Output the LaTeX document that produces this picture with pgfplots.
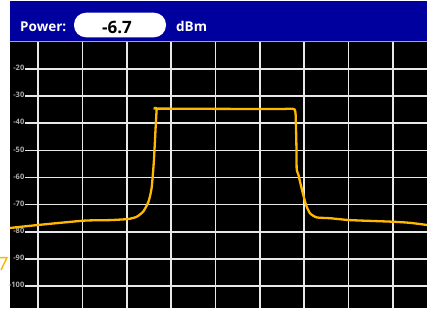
\documentclass[border=0pt]{standalone}
\usepackage{fontspec}
\setmainfont{Open Sans}
\usepackage{pgfplots}
\pgfplotsset{compat=1.18}
\usetikzlibrary{calc}
\definecolor{hblue}{RGB}{0,0,158}
\definecolor{trace}{RGB}{255,184,0}
\definecolor{gridc}{RGB}{232,232,232}
\definecolor{lblc}{RGB}{175,175,175}
\begin{document}
\begin{tikzpicture}
\begin{axis}[
  name=ax, at={(0pt,0pt)}, anchor=south west,
  scale only axis, width=417pt, height=266pt,
  xmin=-6.31, xmax=87.66, ymin=-108.1, ymax=-10.05,
  axis background/.style={fill=black},
  axis line style={draw=none},
  major tick length=0pt,
  xtick={0,10,...,80}, xticklabels={},
  xmajorgrids, grid style={gridc, line width=1.6pt},
  ytick={-100,-90,...,-20},
  yticklabels={-100,-90,-80,-70,-60,-50,-40,-30,-20},
  yticklabel style={anchor=east, xshift=15pt, yshift=1pt, inner sep=0.5pt, text=lblc, font=\bfseries\fontsize{7.5}{8}\selectfont},
]
\pgfplotsinvokeforeach{-100,-90,...,-20}{
  \draw[gridc, line width=1.6pt] (axis cs:-2.93,#1) -- (axis cs:87.66,#1);
}
\addplot[trace, line width=2.3pt, smooth, tension=0.35] coordinates {
(-6.3,-78.6) (0,-77.5) (10.4,-75.9) (16.2,-75.7) (19.6,-75.4) (20.7,-75.2)
(22.2,-74.5) (23.7,-72.6) (24.9,-68.9) (25.6,-63.9) (26.1,-54.2) (26.5,-41.8)
(26.75,-34.7) (26.9,-34.6) (41.0,-34.7) (54.5,-34.75) (57.8,-34.9)
(58.1,-39.9) (58.25,-49.9) (58.3,-57.2) (58.7,-59.1) (59.4,-64.0) (60.4,-70.1)
(61.3,-73.2) (62.8,-74.7) (65.8,-75.0) (70.3,-75.7) (80.0,-76.3) (83.8,-76.7) (87.7,-77.5)
};
\end{axis}
% header band
\fill[hblue] ($(ax.north west)+(0pt,1pt)$) rectangle ($(ax.north east)+(0pt,41pt)$);
\draw[gray!70, line width=0.8pt] ($(ax.north west)+(0pt,0.6pt)$) -- ($(ax.north east)+(0pt,0.6pt)$);
\node[anchor=base west, text=white, inner sep=0pt, font=\bfseries\fontsize{13.5}{14}\selectfont] at ($(ax.north west)+(10pt,10.5pt)$) {Power:};
\fill[white, rounded corners=12pt] ($(ax.north west)+(64pt,4.7pt)$) rectangle ($(ax.north west)+(156pt,29.3pt)$);
\node[anchor=base, text=black, inner sep=0pt, font=\bfseries\fontsize{17}{18}\selectfont] at ($(ax.north west)+(107pt,9pt)$) {-6.7};
\node[anchor=base west, text=white, inner sep=0pt, font=\bfseries\fontsize{13.5}{14}\selectfont] at ($(ax.north west)+(166pt,10.5pt)$) {dBm};
% small reference arrow at left
\draw[trace, line width=1.5pt, line join=miter] ($(ax.south west)+(-10pt,50.5pt)$) -- ($(ax.south west)+(-3pt,50.5pt)$) -- ($(ax.south west)+(-9pt,38pt)$);
\pgfresetboundingbox
\useasboundingbox ($(ax.south west)+(-10pt,0pt)$) rectangle ($(ax.north east)+(0pt,42pt)$);
\end{tikzpicture}
\end{document}
